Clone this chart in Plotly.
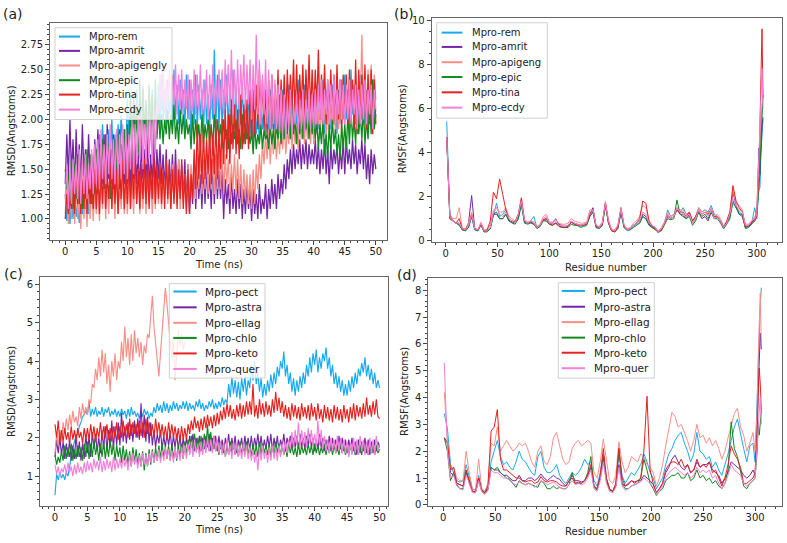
import plotly.graph_objects as go

W, H = 787, 543
FONT = "DejaVu Sans"

# ---------------- data ----------------
time_ns = [i * 0.25 for i in range(201)]
time_ellag = time_ns[:81]

# Panel (a) RMSD
a_names = ["Mpro-rem", "Mpro-amrit", "Mpro-apigengly", "Mpro-epic", "Mpro-tina", "Mpro-ecdy"]
a_rem = [1.25,0.98,1.30,0.95,1.20,1.00,1.35,1.02,1.15,0.96,1.28,1.05,1.40,1.10,1.30,1.05,1.45,1.15,1.50,1.20,
         1.70,1.45,1.85,1.50,1.95,1.55,1.80,1.50,1.90,1.60,2.00,1.55,1.85,1.60,1.95,1.65,2.05,1.70,1.90,1.65,
         2.20,1.80,2.25,1.85,2.10,1.90,2.30,1.85,2.20,1.95,2.35,1.90,2.15,1.85,2.25,1.95,2.30,1.90,2.20,1.85,
         2.35,1.95,2.45,2.00,2.30,1.95,2.40,2.05,2.25,1.95,2.50,2.00,2.35,1.95,2.40,2.05,2.30,1.90,2.45,2.00,
         2.40,1.85,2.30,1.95,2.45,1.90,2.35,2.00,2.30,1.85,2.40,1.95,2.25,1.90,2.35,2.00,2.70,1.95,2.45,1.90,
         2.40,1.90,2.30,2.00,2.45,1.85,2.35,1.95,2.50,1.90,2.30,1.85,2.25,1.95,2.35,1.90,2.20,1.80,2.30,1.85,
         2.10,1.75,2.20,1.85,2.05,1.80,2.25,1.90,2.10,1.80,2.20,1.85,2.30,1.90,2.15,1.85,2.10,1.80,2.25,1.90,
         2.30,1.90,2.20,1.95,2.35,2.00,2.25,1.90,2.30,1.95,2.40,2.00,2.25,1.90,2.35,1.95,2.30,2.00,2.20,1.90,
         2.20,1.85,2.35,1.90,2.25,2.00,2.40,1.85,2.30,1.95,2.25,1.90,2.35,1.95,2.20,1.85,2.30,1.95,2.40,2.00,
         2.45,2.00,2.30,1.90,2.50,2.05,2.35,1.95,2.25,1.90,2.45,2.00,2.35,1.95,2.30,1.90,2.25,1.95,2.40,2.00,
         2.10]
a_amrit = [1.35,1.85,1.40,2.00,1.45,1.80,1.30,1.90,1.40,1.75,1.35,1.95,1.45,1.70,1.30,1.85,1.40,1.65,1.35,1.80,
           1.45,1.90,1.40,1.75,1.35,1.85,1.30,1.95,1.40,1.70,1.35,1.85,1.30,1.70,1.45,1.90,1.40,1.80,1.35,1.75,
           1.35,1.75,1.30,1.70,1.40,1.80,1.35,1.65,1.30,1.75,1.40,1.70,1.35,1.80,1.30,1.65,1.35,1.75,1.30,1.70,
           1.40,1.75,1.35,1.65,1.30,1.70,1.25,1.60,1.30,1.65,1.25,1.70,1.20,1.60,1.25,1.55,1.20,1.60,1.15,1.55,
           1.05,1.45,1.15,1.55,1.10,1.50,1.20,1.45,1.10,1.55,1.15,1.50,1.20,1.45,1.10,1.60,1.15,1.55,1.20,1.50,
           1.20,1.50,1.00,1.40,1.15,1.35,1.05,1.45,1.10,1.30,1.05,1.40,1.10,1.35,1.00,1.30,1.05,1.35,1.10,1.30,
           0.98,1.30,1.05,1.25,1.00,1.35,1.05,1.20,1.10,1.35,1.00,1.30,1.10,1.40,1.15,1.35,1.10,1.45,1.20,1.40,
           1.25,1.55,1.30,1.60,1.40,1.70,1.45,1.75,1.50,1.70,1.55,1.80,1.50,1.75,1.55,1.80,1.50,1.75,1.55,1.70,
           1.55,1.80,1.50,1.75,1.45,1.70,1.50,1.80,1.45,1.70,1.35,1.75,1.50,1.70,1.55,1.75,1.45,1.70,1.50,1.80,
           1.45,1.80,1.55,1.70,1.50,1.80,1.55,1.75,1.45,1.70,1.55,1.80,1.50,1.75,1.40,1.65,1.35,1.70,1.45,1.65,
           1.50]
a_apigengly = [1.05,1.40,0.95,1.30,1.00,1.45,0.95,1.35,1.00,1.25,0.90,1.35,1.00,1.30,0.92,1.40,1.00,1.35,0.98,1.30,
               1.05,1.45,0.98,1.40,1.10,1.50,1.00,1.35,1.05,1.45,1.10,1.40,1.00,1.50,1.05,1.35,1.10,1.45,1.05,1.40,
               1.05,1.50,1.10,1.40,1.05,1.45,1.15,1.50,1.05,1.40,1.10,1.45,1.05,1.50,1.15,1.45,1.05,1.40,1.10,1.50,
               1.15,1.55,1.10,1.50,1.20,1.60,1.15,1.50,1.10,1.55,1.20,1.50,1.15,1.60,1.10,1.50,1.15,1.45,1.10,1.55,
               1.20,1.55,1.25,1.60,1.20,1.65,1.30,1.70,1.25,1.60,1.30,1.65,1.25,1.70,1.30,1.60,1.25,1.65,1.30,1.70,
               1.30,1.70,1.25,1.65,1.35,1.60,1.20,1.55,1.30,1.65,1.25,1.60,1.20,1.55,1.15,1.50,1.20,1.45,1.15,1.45,
               1.10,1.50,1.15,1.55,1.30,1.65,1.40,1.75,1.55,1.85,1.60,1.90,1.55,1.85,1.65,1.90,1.60,1.85,1.65,1.90,
               1.70,1.95,1.65,1.90,1.75,2.05,1.70,2.00,1.75,1.95,1.70,2.00,1.80,2.10,1.75,2.00,1.80,2.05,1.75,2.10,
               1.75,2.05,1.85,2.10,1.80,2.15,1.85,2.20,1.80,2.10,1.85,2.15,1.90,2.20,1.85,2.25,1.90,2.20,1.85,2.25,
               1.95,2.30,2.00,2.40,2.05,2.35,2.00,2.45,2.05,2.40,2.10,2.85,2.00,2.40,2.05,2.50,2.10,2.55,2.00,2.45,
               2.20]
a_epic = [1.50,1.30,1.45,1.15,1.60,1.10,1.55,1.20,1.65,1.15,1.50,1.10,1.60,1.20,1.70,1.25,1.65,1.15,1.55,1.25,
          1.70,1.25,1.75,1.35,1.80,1.30,1.85,1.40,1.75,1.20,1.70,1.30,1.80,1.35,1.85,1.30,1.75,1.40,1.90,1.45,
          1.95,1.55,2.20,1.60,2.25,1.70,2.10,1.65,2.40,1.75,2.30,1.80,2.20,1.75,2.35,1.80,2.25,1.70,2.40,1.80,
          2.10,1.80,2.05,1.75,2.00,1.85,2.10,1.80,2.05,1.85,2.15,1.80,2.00,1.75,2.10,1.85,2.05,1.80,2.00,1.85,
          1.95,1.70,2.05,1.75,2.00,1.80,1.95,1.70,2.05,1.75,1.95,1.80,2.00,1.75,1.95,1.70,2.10,1.75,2.00,1.80,
          1.95,1.70,2.00,1.80,1.90,1.70,2.05,1.75,1.95,1.80,2.00,1.75,1.90,1.70,2.05,1.75,1.95,1.80,1.90,1.75,
          1.90,1.65,1.95,1.70,1.85,1.75,1.95,1.70,1.90,1.80,1.85,1.70,1.95,1.75,1.90,1.70,1.95,1.80,2.00,1.75,
          2.00,1.80,2.10,1.85,2.05,1.80,2.15,1.85,2.00,1.75,2.10,1.85,2.05,1.80,2.15,1.90,2.05,1.80,2.10,1.85,
          2.05,1.80,2.00,1.70,1.95,1.75,2.00,1.65,1.85,1.60,1.95,1.70,2.00,1.75,1.90,1.65,1.85,1.60,1.95,1.70,
          1.95,1.70,2.05,1.75,2.10,1.80,2.00,1.75,2.15,1.85,2.05,1.80,2.10,1.75,2.00,1.80,2.15,1.85,2.40,1.90,
          2.05]
a_tina = [1.00,1.25,1.05,1.20,1.10,1.45,1.05,1.50,1.15,1.60,1.05,1.40,1.10,1.55,1.05,1.45,1.15,1.60,1.10,1.50,
          1.10,1.55,1.05,1.50,1.15,1.60,1.10,1.45,1.20,1.55,1.10,1.60,1.15,1.50,1.05,1.55,1.20,1.60,1.10,1.50,
          1.15,1.60,1.10,1.55,1.20,1.65,1.15,1.50,1.10,1.55,1.20,1.60,1.15,1.55,1.10,1.50,1.20,1.65,1.15,1.55,
          1.20,1.55,1.15,1.50,1.10,1.60,1.20,1.55,1.10,1.50,1.15,1.55,1.10,1.50,1.20,1.60,1.10,1.45,1.05,1.50,
          1.05,1.45,1.20,1.70,1.30,1.95,1.40,1.85,1.35,1.90,1.40,1.80,1.45,1.95,1.35,1.85,1.45,2.00,1.40,1.90,
          1.50,2.00,1.55,2.10,1.60,2.05,1.55,2.20,1.70,2.15,1.65,2.10,1.60,2.25,1.70,2.15,1.75,2.20,1.70,2.30,
          1.80,2.30,1.85,2.35,1.90,2.50,1.95,2.40,1.90,2.30,1.85,2.40,1.95,2.45,1.90,2.35,1.95,2.50,1.90,2.40,
          2.00,2.45,1.95,2.50,2.05,2.45,2.10,2.60,2.00,2.55,2.05,2.45,2.10,2.55,2.00,2.50,2.10,2.65,2.05,2.50,
          2.05,2.50,2.10,2.70,2.00,2.45,2.05,2.55,1.95,2.40,2.00,2.50,2.05,2.45,1.95,2.55,2.00,2.40,1.95,2.45,
          2.00,2.45,1.95,2.50,2.05,2.40,1.90,2.60,1.85,2.50,1.95,2.45,2.00,2.55,1.90,2.45,1.95,2.50,1.85,2.40,
          1.95]
a_ecdy = [1.20,1.55,1.10,1.50,1.15,1.60,1.25,1.55,1.20,1.70,1.15,1.60,1.25,1.65,1.20,1.55,1.30,1.70,1.25,1.75,
          1.35,1.80,1.30,1.90,1.40,1.75,1.35,1.85,1.45,1.95,1.40,1.80,1.35,1.90,1.45,1.85,1.40,1.95,1.45,1.90,
          1.40,1.85,1.50,2.00,1.45,1.95,1.55,2.05,1.60,2.10,1.50,1.95,1.55,2.05,1.60,2.00,1.55,2.10,1.65,2.15,
          2.05,2.45,2.10,2.55,2.05,2.40,2.15,2.50,2.10,2.45,2.15,2.55,2.05,2.45,2.10,2.50,2.05,2.40,2.10,2.45,
          2.00,2.40,2.10,2.50,2.05,2.45,2.10,2.55,2.05,2.40,2.10,2.50,2.00,2.45,2.10,2.55,2.05,2.40,2.15,2.50,
          2.10,2.50,2.05,2.60,2.15,2.55,2.10,2.70,2.05,2.50,2.15,2.60,2.10,2.55,2.20,2.65,2.10,2.55,2.15,2.60,
          2.00,2.55,2.10,2.85,2.05,2.60,1.95,2.45,2.05,2.60,1.95,2.50,1.90,2.45,1.95,2.40,1.90,2.35,1.85,2.30,
          1.85,2.25,1.80,2.20,1.90,2.30,1.85,2.15,1.95,2.25,1.85,2.20,1.90,2.30,1.85,2.20,1.95,2.30,1.90,2.25,
          1.90,2.30,1.95,2.35,2.00,2.40,1.95,2.30,2.05,2.40,1.95,2.35,2.00,2.45,1.95,2.30,2.05,2.40,2.00,2.35,
          1.95,2.35,2.00,2.40,1.95,2.30,2.05,2.35,1.90,2.30,1.95,2.35,2.00,2.40,1.95,2.30,2.05,2.35,1.90,2.30,
          2.10]

# Panel (c) RMSD
c_names = ["Mpro-pect", "Mpro-astra", "Mpro-ellag", "Mpro-chlo", "Mpro-keto", "Mpro-quer"]
c_pect = [0.50,1.05,0.90,1.10,0.95,1.05,0.90,1.10,1.00,1.30,1.50,1.75,1.90,2.05,2.10,2.30,2.40,2.55,2.60,2.70,
          2.60,2.95,2.55,2.75,2.60,2.80,2.55,2.70,2.60,2.80,2.55,2.75,2.65,2.80,2.55,2.70,2.60,2.75,2.55,2.70,
          2.55,2.75,2.60,2.70,2.50,2.75,2.55,2.80,2.60,2.70,2.55,2.65,2.50,2.70,2.55,2.75,2.60,2.70,2.50,2.65,
          2.55,2.80,2.65,2.90,2.70,2.85,2.65,2.95,2.70,2.90,2.65,2.85,2.70,2.95,2.75,2.90,2.70,2.85,2.75,2.95,
          2.75,2.95,2.70,2.90,2.75,2.85,2.70,2.95,2.80,3.00,2.75,2.90,2.70,2.85,2.75,2.95,2.80,3.00,2.75,2.90,
          2.75,2.95,2.80,3.05,2.85,3.00,2.90,3.40,3.05,3.60,3.15,3.50,3.05,3.45,3.00,3.55,3.20,3.60,3.10,3.50,
          3.30,3.90,3.50,4.00,3.40,3.70,3.20,3.55,3.05,3.40,3.10,3.50,3.20,3.65,3.30,3.70,3.40,3.85,3.60,4.00,
          3.80,4.25,3.60,3.90,3.40,3.70,3.20,3.55,3.10,3.50,3.20,3.60,3.30,3.70,3.40,3.90,3.60,4.10,3.70,4.20,
          3.90,4.30,3.70,4.10,3.80,4.20,4.00,4.35,3.80,4.10,3.60,3.90,3.40,3.70,3.30,3.60,3.20,3.50,3.10,3.40,
          3.10,3.50,3.20,3.60,3.30,3.70,3.40,3.80,3.60,3.95,3.70,4.10,3.60,3.90,3.50,3.80,3.40,3.70,3.30,3.50,
          3.30]
c_astra = [1.50,1.95,1.60,2.00,1.55,1.90,1.45,1.85,1.50,1.95,1.40,1.80,1.45,2.10,1.50,1.90,1.40,1.85,1.45,2.10,
           1.60,2.05,1.50,2.15,1.70,2.10,1.65,2.00,1.60,2.20,1.70,2.30,1.65,2.20,1.75,2.45,1.70,2.30,1.80,2.40,
           1.80,2.65,1.90,2.30,1.85,2.40,1.95,2.35,1.90,2.45,2.00,2.50,1.95,2.90,2.00,2.60,1.90,2.55,1.85,2.40,
           1.80,2.20,1.75,2.10,1.85,2.20,1.70,2.05,1.75,2.10,1.80,2.15,1.70,2.05,1.75,2.10,1.70,2.05,1.65,2.00,
           1.65,2.00,1.70,2.05,1.75,2.10,1.65,2.00,1.70,2.05,1.65,2.00,1.70,2.05,1.75,2.10,1.65,2.00,1.70,2.05,
           1.65,2.05,1.70,1.95,1.60,2.00,1.75,2.10,1.65,2.00,1.70,2.05,1.60,1.95,1.70,2.00,1.65,2.05,1.70,2.00,
           1.70,2.05,1.65,2.00,1.75,2.10,1.70,2.05,1.65,1.95,1.70,2.05,1.75,2.10,1.65,2.00,1.70,2.05,1.65,1.95,
           1.75,2.10,1.70,2.00,1.80,2.05,1.70,2.00,1.75,2.05,1.70,2.10,1.75,2.00,1.70,2.05,1.80,2.10,1.75,2.00,
           1.65,1.95,1.70,2.10,1.75,2.00,1.65,1.95,1.70,2.05,1.65,2.00,1.70,1.95,1.65,2.05,1.70,2.00,1.65,1.95,
           1.60,1.95,1.70,2.00,1.65,1.90,1.55,1.95,1.60,1.90,1.65,2.00,1.60,1.95,1.55,1.90,1.60,1.95,1.65,1.90,
           1.75]
c_ellag = [1.60,2.10,1.80,2.20,1.90,2.40,2.10,2.50,2.20,2.60,2.30,2.70,2.40,2.55,2.30,2.80,2.50,2.90,2.60,2.80,
           2.60,3.00,2.90,3.40,3.30,3.80,3.50,4.10,3.60,4.30,3.70,4.20,3.40,3.90,3.20,4.00,3.60,4.20,3.50,4.00,
           3.80,4.50,4.00,4.90,4.10,4.60,3.90,4.70,4.00,4.80,4.20,4.60,4.10,4.50,3.90,4.40,4.20,4.70,4.60,5.20,
           5.70,4.90,4.40,3.90,3.60,4.20,4.80,5.40,5.90,5.50,4.90,4.50,4.10,4.60,3.50,4.30,4.80,4.40,4.70,4.30,
           4.50]
c_chlo = [1.55,1.30,1.50,1.35,1.65,1.40,1.80,1.45,1.75,1.50,1.85,1.40,1.70,1.45,1.80,1.50,1.75,1.40,1.85,1.50,
          1.90,1.45,1.85,1.50,1.95,1.55,1.80,1.40,1.85,1.50,1.90,1.45,1.80,1.50,1.95,1.55,1.85,1.40,1.80,1.50,
          1.75,1.35,1.80,1.40,1.70,1.30,1.65,1.25,1.75,1.35,1.70,1.30,1.60,1.25,1.65,1.15,1.60,1.25,1.70,1.30,
          1.70,1.35,1.75,1.40,1.80,1.45,1.85,1.50,1.75,1.45,1.80,1.40,1.85,1.45,1.75,1.40,1.80,1.50,1.85,1.45,
          1.90,1.55,1.95,1.60,2.05,1.65,2.10,1.70,2.00,1.60,2.05,1.65,2.10,1.70,2.35,1.65,2.15,1.70,2.05,1.65,
          1.85,1.55,1.90,1.60,1.85,1.50,1.80,1.55,1.90,1.60,1.85,1.55,1.80,1.50,1.90,1.55,1.85,1.60,1.90,1.55,
          1.80,1.50,1.85,1.55,1.80,1.50,1.90,1.55,1.85,1.60,1.80,1.55,1.85,1.50,1.80,1.55,1.90,1.60,1.85,1.55,
          1.80,1.55,1.75,1.50,1.85,1.60,1.80,1.55,1.75,1.50,1.85,1.55,1.80,1.60,1.75,1.55,1.85,1.60,1.80,1.55,
          1.85,1.60,1.80,1.55,1.75,1.60,1.85,1.55,1.80,1.60,1.85,1.55,1.80,1.60,1.75,1.55,1.85,1.60,1.80,1.55,
          1.85,1.55,1.80,1.60,1.75,1.55,1.85,1.60,1.80,1.55,1.85,1.60,1.80,1.55,1.75,1.60,1.85,1.55,1.80,1.60,
          1.70]
c_keto = [2.35,2.00,2.45,1.85,2.20,1.90,2.25,1.95,2.15,1.85,2.30,1.95,2.20,1.90,2.25,2.00,2.15,1.85,2.25,1.95,
          2.25,1.95,2.35,2.00,2.30,1.90,2.25,2.00,2.40,1.95,2.30,2.00,2.35,1.95,2.25,1.90,2.30,2.00,2.40,1.95,
          2.30,2.00,2.45,2.05,2.35,2.00,2.50,2.05,2.40,2.10,2.35,2.00,2.45,2.05,2.40,2.00,2.50,2.10,2.40,2.05,
          2.35,2.00,2.50,2.10,2.40,2.05,2.35,2.00,2.30,1.95,2.40,2.05,2.35,2.00,2.30,1.95,2.25,1.90,2.30,1.95,
          2.25,1.95,2.35,2.10,2.45,2.20,2.55,2.25,2.45,2.15,2.50,2.20,2.55,2.25,2.60,2.30,2.55,2.25,2.60,2.30,
          2.65,2.35,2.70,2.45,2.80,2.50,2.90,2.55,2.85,2.50,2.75,2.45,2.85,2.55,2.90,2.50,2.85,2.55,2.95,2.60,
          2.95,2.60,3.40,2.55,2.85,2.50,3.00,2.60,2.90,2.55,2.95,2.60,2.85,2.55,3.00,2.65,3.20,2.70,3.05,2.65,
          2.95,2.55,2.85,2.50,2.80,2.45,2.90,2.55,2.85,2.50,2.80,2.45,2.90,2.55,2.80,2.50,2.85,2.45,2.90,2.55,
          2.80,2.45,2.90,2.50,2.75,2.40,2.85,2.50,2.80,2.45,2.75,2.40,2.85,2.50,2.80,2.45,2.75,2.40,2.85,2.50,
          2.75,2.40,2.80,2.50,2.90,2.45,2.85,2.55,2.80,2.50,2.90,2.55,3.05,2.60,2.85,2.55,2.95,2.60,3.00,2.55,
          2.50]
c_quer = [1.30,1.05,1.25,1.00,1.20,1.10,1.30,1.05,1.35,1.10,1.25,1.00,1.30,1.05,1.35,1.10,1.25,1.05,1.35,1.10,
          1.40,1.15,1.35,1.10,1.45,1.20,1.40,1.15,1.50,1.10,1.40,1.15,1.45,1.20,1.40,1.10,1.50,1.15,1.45,1.20,
          1.45,1.20,1.50,1.25,1.45,1.15,1.55,1.25,1.60,1.30,1.50,1.20,1.55,1.25,1.60,1.30,1.55,1.25,1.60,1.35,
          1.65,1.35,1.60,1.40,1.70,1.35,1.65,1.40,1.75,1.45,1.70,1.40,1.65,1.35,1.75,1.45,1.70,1.40,1.75,1.45,
          1.80,1.45,1.85,1.55,1.90,1.50,1.95,1.60,1.85,1.50,1.90,1.55,1.95,1.60,2.00,1.65,1.95,1.60,2.05,1.65,
          1.95,1.60,1.90,1.55,1.85,1.50,1.95,1.55,1.80,1.45,1.90,1.55,1.85,1.50,1.80,1.45,1.85,1.50,1.80,1.45,
          1.75,1.40,1.70,1.35,1.65,1.15,1.75,1.40,1.80,1.45,1.70,1.35,1.75,1.40,1.80,1.45,1.75,1.40,1.80,1.50,
          1.85,1.55,1.90,1.60,1.95,1.70,2.15,1.75,2.20,1.80,2.40,1.75,2.20,1.80,2.15,1.75,2.25,1.85,2.20,1.80,
          2.10,1.75,2.45,1.80,2.20,1.70,2.05,1.65,1.95,1.60,2.00,1.65,1.95,1.60,2.05,1.65,2.00,1.60,1.95,1.60,
          1.90,1.50,1.85,1.55,2.00,1.60,1.95,1.55,2.05,1.65,1.95,1.55,1.90,1.55,2.00,1.60,1.95,1.55,2.05,1.65,
          1.85]

# Residue numbers for RMSF panels
residues = list(range(1, 299, 3)) + [300, 302, 303, 304, 305, 306]

# Panel (b) RMSF
b_names = ["Mpro-rem", "Mpro-amrit", "Mpro-apigeng", "Mpro-epic", "Mpro-tina", "Mpro-ecdy"]
b_rem = [5.4,1.2,0.9,0.8,0.8,0.5,0.45,0.6,1.1,0.5,
         0.45,0.7,0.4,0.45,0.55,1.2,1.7,1.1,1.2,1.4,
         0.9,0.85,0.8,1.0,1.6,0.85,0.8,0.9,1.1,0.6,
         0.65,0.95,0.9,0.75,0.75,0.8,0.7,0.65,0.6,0.65,
         0.85,0.75,0.7,0.65,0.7,0.75,1.1,1.3,0.6,0.55,
         0.7,1.6,0.8,0.45,0.4,0.6,1.2,0.6,0.45,0.5,
         0.65,0.75,0.8,1.1,1.0,0.75,0.6,0.55,0.35,0.5,
         0.8,1.4,1.1,1.2,1.4,1.3,1.5,1.2,1.3,0.9,
         1.1,1.5,1.3,1.4,1.3,1.6,1.2,1.1,0.9,0.55,
         0.8,1.1,1.7,1.5,1.3,1.2,0.65,0.65,0.8,1.5,
         1.0,2.3,2.4,4.0,5.0,5.5]
b_amrit = [4.7,1.1,0.9,0.8,0.75,0.5,0.5,0.8,2.05,0.55,
           0.5,0.75,0.45,0.45,0.6,1.2,1.2,1.0,1.0,1.2,
           0.9,0.85,0.8,1.1,1.7,0.85,0.8,0.85,0.75,0.6,
           0.7,0.95,1.0,0.8,0.8,1.0,0.75,0.7,0.65,0.7,
           0.85,0.8,0.75,0.7,0.75,0.8,1.2,1.5,0.65,0.6,
           0.75,1.7,0.85,0.5,0.45,0.65,1.5,0.65,0.5,0.55,
           0.7,0.8,0.9,1.2,1.1,0.75,0.65,0.6,0.4,0.5,
           0.75,1.1,1.0,1.1,1.4,1.2,1.1,1.0,1.2,0.8,
           1.0,1.3,1.0,1.1,0.9,1.3,1.0,1.1,0.9,0.6,
           0.8,1.1,2.2,1.6,1.2,1.1,0.6,0.65,0.8,1.0,
           1.3,4.2,3.0,4.5,5.2,5.6]
b_apigeng = [4.7,1.2,1.0,1.0,1.5,0.55,0.55,0.8,1.3,0.55,
             0.5,0.85,0.5,0.5,0.75,1.4,1.5,1.3,1.3,1.5,
             1.1,1.0,0.9,1.2,1.9,0.95,0.85,0.9,0.85,0.65,
             0.75,1.1,1.2,0.85,0.85,0.95,0.8,0.75,0.75,0.8,
             1.0,0.9,0.85,0.8,0.8,0.85,1.4,1.4,0.7,0.65,
             0.85,1.8,0.95,0.5,0.5,0.7,1.5,0.7,0.55,0.6,
             0.8,0.9,1.1,1.6,1.5,0.9,0.7,0.6,0.45,0.6,
             0.85,1.3,1.1,1.2,1.5,1.4,1.4,1.2,1.3,0.85,
             1.1,1.5,1.3,1.4,1.2,1.5,1.1,1.2,1.0,0.65,
             0.9,1.3,2.3,1.7,1.6,1.4,0.75,0.75,0.9,1.1,
             1.3,3.5,4.5,5.5,6.2,6.0]
b_epic = [4.7,1.0,0.9,0.8,0.7,0.5,0.45,0.6,1.1,0.5,
          0.45,0.75,0.4,0.4,0.55,1.2,1.3,1.0,1.0,1.2,
          0.9,0.8,0.75,1.0,1.7,0.8,0.75,0.8,0.75,0.55,
          0.65,0.9,0.9,0.75,0.7,0.8,0.7,0.6,0.6,0.6,
          0.75,0.7,0.7,0.6,0.65,0.7,1.1,1.3,0.6,0.55,
          0.7,1.6,0.8,0.45,0.4,0.55,1.3,0.6,0.5,0.5,
          0.6,0.7,0.8,1.1,1.0,0.7,0.6,0.5,0.4,0.45,
          0.7,1.0,0.95,1.0,1.85,1.2,1.2,1.0,1.1,0.7,
          0.9,1.3,1.1,1.2,1.0,1.3,1.0,1.0,0.8,0.55,
          0.75,1.0,1.8,1.5,1.2,1.2,0.55,0.6,0.75,0.9,
          1.2,2.5,3.0,4.5,5.5,6.6]
b_tina = [4.7,1.0,0.9,0.8,1.0,0.55,0.5,0.7,1.2,0.55,
          0.5,0.7,0.45,0.5,0.9,2.2,1.9,2.8,2.1,1.4,
          1.0,0.9,0.85,1.2,1.95,0.9,0.8,0.85,0.8,0.6,
          0.7,0.95,1.0,0.75,0.7,0.8,0.65,0.6,0.6,0.65,
          0.85,0.75,0.7,0.7,0.7,0.75,1.2,1.4,0.65,0.6,
          0.75,1.7,0.8,0.45,0.4,0.6,1.4,0.65,0.5,0.55,
          0.7,0.8,1.0,1.8,1.7,0.9,0.65,0.55,0.4,0.5,
          0.8,1.2,1.0,1.1,1.4,1.3,1.3,1.1,1.3,0.9,
          1.1,1.4,1.2,1.3,1.2,1.4,1.1,1.1,0.9,0.6,
          0.9,1.3,2.5,1.8,1.5,1.3,0.65,0.7,0.85,0.9,
          1.1,3.0,5.0,7.5,9.6,6.5]
b_ecdy = [4.7,1.1,0.9,0.8,0.8,0.55,0.5,0.7,1.2,0.55,
          0.5,0.8,0.45,0.45,0.6,1.3,1.5,1.2,1.1,1.3,
          1.0,0.9,0.8,1.2,1.8,0.9,0.8,0.9,0.8,0.6,
          0.7,1.0,1.1,0.8,0.8,0.9,0.7,0.7,0.65,0.7,
          0.9,0.8,0.75,0.7,0.75,0.8,1.3,1.4,0.7,0.6,
          0.8,1.7,0.9,0.5,0.45,0.7,1.4,0.7,0.5,0.55,
          0.7,0.8,0.9,1.3,1.2,0.8,0.7,0.6,0.4,0.55,
          0.8,1.2,1.0,1.1,1.5,1.3,1.2,1.1,1.2,0.8,
          1.0,1.4,1.2,1.3,1.1,1.4,1.0,1.1,0.9,0.6,
          0.8,1.2,1.9,1.6,1.4,1.3,0.7,0.7,0.9,1.0,
          1.2,3.5,5.0,6.5,7.8,6.0]

# Panel (d) RMSF
d_names = ["Mpro-pect", "Mpro-astra", "Mpro-ellag", "Mpro-chlo", "Mpro-keto", "Mpro-quer"]
d_pect = [3.4,2.85,1.5,1.2,0.9,0.85,0.9,1.5,1.0,0.6,
          0.55,1.1,0.6,0.5,0.7,1.6,2.0,2.4,1.8,1.5,
          1.6,1.4,1.3,1.6,2.0,1.7,1.6,1.4,1.2,1.1,
          1.8,2.0,1.4,1.2,1.2,1.3,1.5,1.1,0.9,0.8,
          1.0,1.2,1.1,1.2,1.4,1.7,1.5,1.6,0.9,0.7,
          1.2,1.9,1.0,0.6,0.5,0.8,1.9,1.1,0.8,1.0,
          1.2,1.1,1.3,1.5,1.9,1.6,1.2,1.0,0.6,0.8,
          1.0,1.5,1.9,2.1,2.4,2.6,2.7,2.3,2.0,1.6,
          1.9,2.7,2.0,1.9,1.7,1.8,1.4,1.6,1.3,1.1,
          1.5,1.9,2.4,2.9,3.2,2.6,2.1,1.6,2.2,2.3,
          1.6,4.0,5.5,6.5,7.5,8.1]
d_astra = [2.5,2.3,1.2,1.1,0.8,0.75,0.7,1.2,0.9,0.5,
           0.5,1.0,0.55,0.45,0.6,1.4,1.3,1.3,1.2,1.1,
           1.1,1.0,0.9,0.9,1.1,0.9,0.9,1.0,1.0,0.9,
           1.0,1.15,1.0,0.9,1.0,1.1,1.0,0.95,0.8,0.7,
           0.9,1.1,0.9,0.9,0.85,0.9,1.1,1.4,0.7,0.6,
           1.0,1.8,0.9,0.6,0.5,0.7,1.5,0.8,0.7,0.75,
           0.9,0.85,0.9,0.9,1.1,1.0,0.9,0.75,0.45,0.6,
           0.8,1.2,1.4,1.7,1.85,1.6,1.4,1.3,1.5,1.2,
           1.3,1.6,1.4,1.5,1.5,1.6,1.3,1.2,1.1,0.8,
           1.0,1.2,1.6,1.5,1.4,1.3,1.1,1.0,1.1,1.3,
           1.1,3.0,4.5,5.5,6.4,5.8]
d_ellag = [4.2,2.4,1.3,1.4,1.0,0.9,0.9,2.0,1.2,0.6,
           0.55,1.7,0.6,0.5,0.8,2.3,2.2,2.9,2.0,2.2,
           2.4,2.2,2.0,2.1,2.3,2.2,2.3,2.0,1.6,1.4,
           2.0,2.2,1.6,1.5,1.8,2.5,2.7,2.2,1.7,1.5,
           1.6,2.1,2.3,2.4,2.2,2.3,2.4,2.3,1.2,1.0,
           1.6,2.45,1.6,0.9,0.8,1.1,2.35,1.6,1.2,1.4,
           1.8,1.7,1.6,1.9,1.8,1.5,1.4,1.2,0.7,1.0,
           1.5,2.2,2.8,3.45,3.3,2.9,3.0,2.7,2.4,2.0,
           2.4,3.0,2.5,2.6,2.3,2.5,2.2,2.4,2.1,1.7,
           2.0,2.5,3.0,3.4,3.6,2.9,2.6,2.0,2.3,2.7,
           2.0,3.5,5.5,6.5,7.9,6.0]
d_chlo = [2.5,2.0,0.9,1.2,0.75,0.6,0.6,1.3,0.8,0.5,
          0.45,0.9,0.5,0.4,0.55,1.4,1.3,1.4,1.2,1.1,
          1.0,0.95,0.8,0.65,0.9,0.8,0.75,0.8,0.75,0.7,
          0.65,0.9,0.8,0.6,0.6,0.7,0.6,0.65,0.6,0.6,
          0.75,1.2,0.8,0.8,0.8,0.9,1.2,1.8,0.65,0.55,
          1.0,1.7,0.9,0.55,0.5,0.7,2.1,0.8,0.6,0.6,
          0.7,0.75,0.8,1.0,1.7,1.3,0.8,0.6,0.35,0.5,
          0.6,0.9,1.0,1.1,1.1,1.2,1.0,1.0,1.2,0.9,
          1.0,1.3,1.0,1.1,0.9,1.0,0.8,0.9,0.7,0.6,
          0.8,1.3,3.1,2.1,1.8,1.2,0.7,0.6,0.8,0.9,
          1.0,2.0,3.0,2.6,3.0,3.5]
d_keto = [2.5,2.3,1.3,1.4,0.8,0.75,0.7,1.3,0.9,0.5,
          0.5,1.0,0.55,0.45,0.7,2.75,2.9,3.55,1.7,1.3,
          1.3,1.2,1.1,1.0,1.0,0.9,0.85,0.9,0.9,0.8,
          0.85,1.05,0.9,0.85,0.9,0.9,0.85,0.75,0.7,0.7,
          0.9,1.0,0.8,0.85,0.8,0.9,1.1,1.5,0.7,0.6,
          1.1,2.1,1.0,0.6,0.5,0.8,2.1,1.0,0.7,0.8,
          0.9,0.8,0.9,1.0,2.0,4.05,1.3,0.8,0.45,0.6,
          0.8,1.3,1.5,1.6,1.6,1.5,1.7,1.4,1.5,1.2,
          1.3,1.7,1.4,1.5,1.4,1.6,1.2,1.3,1.0,0.7,
          1.0,1.5,2.2,1.9,1.7,1.4,0.8,0.8,0.9,1.0,
          1.2,2.5,4.0,5.1,4.5,3.5]
d_quer = [5.3,2.0,1.0,1.1,0.7,0.6,0.55,1.1,0.8,0.45,
          0.45,0.9,0.5,0.4,0.55,1.3,1.2,1.2,1.1,1.0,
          1.0,0.9,0.8,0.75,0.85,0.8,0.75,0.8,0.75,0.65,
          0.75,0.9,0.85,0.75,0.8,0.85,0.75,0.65,0.6,0.6,
          0.75,0.9,0.75,0.8,0.75,0.8,1.0,1.3,0.6,0.5,
          0.9,1.6,0.8,0.5,0.45,0.65,1.4,0.7,0.55,0.6,
          0.7,0.75,0.8,0.85,1.0,0.9,0.8,0.65,0.4,0.5,
          0.7,1.0,1.2,1.3,1.4,1.3,1.2,1.1,1.2,1.0,
          1.1,1.4,1.2,1.3,1.2,1.3,1.0,1.1,0.8,0.6,
          0.8,1.1,1.5,1.3,1.2,1.1,0.8,0.7,0.8,0.9,
          1.0,2.2,3.0,3.5,4.0,3.0]

colors = ["#17a9f0", "#7426a6", "#f98e87", "#0e8a1f", "#e5221f", "#f57fda"]

# ---------------- figure ----------------
fig = go.Figure()

def px_x(x):
    return x / W

def px_y(y):
    return 1 - y / H

panels = {
    "a": dict(xd=[50, 387], yd=[20, 240]),
    "b": dict(xd=[431.7, 781.7], yd=[15, 242]),
    "c": dict(xd=[40, 388], yd=[278, 510]),
    "d": dict(xd=[428.3, 781.7], yd=[278.3, 510]),
}

a_series = [a_rem, a_amrit, a_apigengly, a_epic, a_tina, a_ecdy]
for n, s, c in zip(a_names, a_series, colors):
    fig.add_trace(go.Scatter(x=time_ns[:len(s)], y=s, mode="lines", name=n, showlegend=False,
                             line=dict(color=c, width=1.3), xaxis="x", yaxis="y"))

b_series = [b_rem, b_amrit, b_apigeng, b_epic, b_tina, b_ecdy]
for n, s, c in zip(b_names, b_series, colors):
    fig.add_trace(go.Scatter(x=residues, y=s, mode="lines", name=n, showlegend=False,
                             line=dict(color=c, width=1.0), xaxis="x2", yaxis="y2"))

c_series = [c_pect, c_astra, c_ellag, c_chlo, c_keto, c_quer]
c_times = [time_ns, time_ns, time_ellag, time_ns, time_ns, time_ns]
for n, s, t, c in zip(c_names, c_series, c_times, colors):
    fig.add_trace(go.Scatter(x=t[:len(s)], y=s, mode="lines", name=n, showlegend=False,
                             line=dict(color=c, width=1.15), xaxis="x3", yaxis="y3"))

d_series = [d_pect, d_astra, d_ellag, d_chlo, d_keto, d_quer]
for n, s, c in zip(d_names, d_series, colors):
    fig.add_trace(go.Scatter(x=residues, y=s, mode="lines", name=n, showlegend=False,
                             line=dict(color=c, width=1.0), xaxis="x4", yaxis="y4"))

axis_common = dict(showline=True, mirror=True, linecolor="#666", linewidth=1,
                   ticks="outside", ticklen=4, tickcolor="#444", showgrid=False,
                   zeroline=False, tickfont=dict(family=FONT, size=10, color="#222"))

def xdom(p):
    return [px_x(p["xd"][0]), px_x(p["xd"][1])]

def ydom(p):
    return [px_y(p["yd"][1]), px_y(p["yd"][0])]

def minor(d):
    return dict(ticks="outside", ticklen=2, dtick=d, tickcolor="#444")

fig.update_layout(
    width=W, height=H, margin=dict(l=0, r=0, t=0, b=0),
    paper_bgcolor="white", plot_bgcolor="white",
    font=dict(family=FONT, size=10, color="#222"),
    showlegend=False,
    xaxis=dict(domain=xdom(panels["a"]), anchor="y", range=[-2.46, 51.8], ticklabelstandoff=-2,
               tick0=0, dtick=5, minor=minor(1), **axis_common),
    yaxis=dict(domain=ydom(panels["a"]), anchor="x", range=[0.79, 2.97],
               tick0=1, dtick=0.25, tickformat=".2f", minor=minor(0.05), **axis_common),
    xaxis2=dict(domain=xdom(panels["b"]), anchor="y2", range=[-13.5, 324], ticklabelstandoff=-2,
                tick0=0, dtick=50, minor=minor(10), **axis_common),
    yaxis2=dict(domain=ydom(panels["b"]), anchor="x2", range=[-0.05, 10.1],
                tick0=0, dtick=2, minor=minor(0.5), **axis_common),
    xaxis3=dict(domain=xdom(panels["c"]), anchor="y3", range=[-2.31, 51.3], ticklabelstandoff=-2,
                tick0=0, dtick=5, minor=minor(1), **axis_common),
    yaxis3=dict(domain=ydom(panels["c"]), anchor="x3", range=[0.21, 6.18],
                tick0=0, dtick=1, minor=minor(0.2), **axis_common),
    xaxis4=dict(domain=xdom(panels["d"]), anchor="y4", range=[-14.4, 325.6], ticklabelstandoff=-2,
                tick0=0, dtick=50, minor=minor(10), **axis_common),
    yaxis4=dict(domain=ydom(panels["d"]), anchor="x4", range=[-0.06, 8.47],
                tick0=0, dtick=1, minor=minor(0.2), **axis_common),
)

annotations = []
shapes = []

def text(x, y, s, size=10, angle=0, xanchor="center"):
    annotations.append(dict(x=px_x(x), y=px_y(y), xref="paper", yref="paper", text=s,
                            showarrow=False, textangle=angle, xanchor=xanchor, yanchor="middle",
                            font=dict(family=FONT, size=size, color="#222")))

# panel labels
text(13, 11, "(a)", size=14)
text(404, 11, "(b)", size=14)
text(13, 275, "(c)", size=14)
text(407, 276, "(d)", size=14)

# axis titles
text(11, 130, "RMSD(Angstroms)", angle=-90)
text(402, 128, "RMSF(Angstroms)", angle=-90)
text(12, 394, "RMSD(Angstroms)", angle=-90)
text(405, 394, "RMSF(Angstroms)", angle=-90)
text(219, 265, "Time (ns)")
text(606, 268, "Residue number")
text(219, 533, "Time (ns)")
text(606, 535.5, "Residue number")

def legend(box, line_x, text_x, ys, names, size=10):
    x0, x1, y0, y1 = box
    shapes.append(dict(type="rect", xref="paper", yref="paper",
                       x0=px_x(x0), x1=px_x(x1), y0=px_y(y1), y1=px_y(y0),
                       fillcolor="rgba(255,255,255,0.8)", line=dict(color="#d0d0d0", width=1),
                       layer="above"))
    for y, n, c in zip(ys, names, colors):
        shapes.append(dict(type="line", xref="paper", yref="paper",
                           x0=px_x(line_x[0]), x1=px_x(line_x[1]), y0=px_y(y), y1=px_y(y),
                           line=dict(color=c, width=2), layer="above"))
        text(text_x, y, n, size=size, xanchor="left")

legend((55, 172, 25, 118), (59, 80), 87, [34, 48.5, 63.3, 78.2, 92.8, 108], a_names)
legend((436.7, 547.3, 20, 116.7), (441.7, 462.3), 470, [30, 44.5, 60, 75, 90.5, 106], b_names)
legend((169.3, 265, 284.3, 380), (173.3, 196.7), 202.5, [292.3, 308.3, 324, 339.3, 355, 370.7], c_names, size=10.5)
legend((558.3, 654.3, 283.3, 380), (561.7, 585), 591.5, [291.7, 307.7, 323.3, 339, 354.3, 370], d_names, size=10.5)

fig.update_layout(annotations=annotations, shapes=shapes)
fig.write_html("out.html", config={"displayModeBar": False},
               post_script="document.body.style.margin='0px';")
